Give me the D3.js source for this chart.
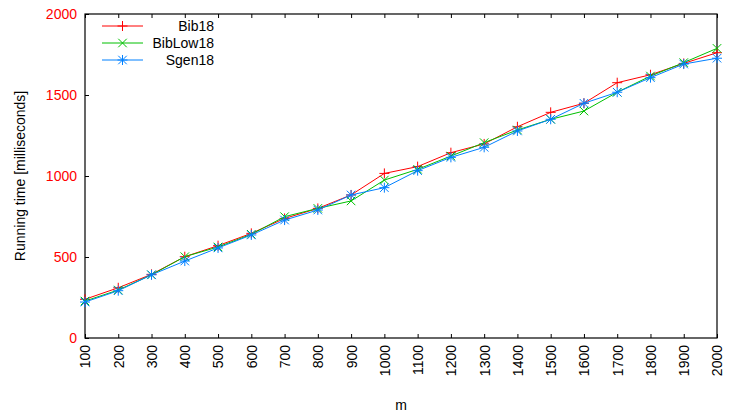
<!DOCTYPE html>
<html>
<head>
<meta charset="utf-8">
<script src="https://cdn.jsdelivr.net/npm/d3@7/dist/d3.min.js"></script>
<style>
  html, body { margin: 0; padding: 0; background: #fff; }
  svg { display: block; font-family: "Liberation Sans", Arial, sans-serif; }
</style>
</head>
<body>
<svg id="chart" width="732" height="415"></svg>
<script>
// Problem size m
const mValues = [100, 200, 300, 400, 500, 600, 700, 800, 900, 1000,
                 1100, 1200, 1300, 1400, 1500, 1600, 1700, 1800, 1900, 2000];

// Running times in milliseconds
const bib18 = [239, 310, 393, 502, 570, 646, 738, 800, 883, 1016,
               1058, 1144, 1198, 1304, 1393, 1449, 1576, 1625, 1695, 1761];
const bibLow18 = [228, 296, 390, 502, 562, 640, 749, 800, 846, 975,
                  1041, 1123, 1206, 1284, 1350, 1401, 1517, 1617, 1700, 1788];
const sgen18 = [222, 292, 390, 475, 556, 636, 728, 790, 883, 928,
                1033, 1115, 1177, 1278, 1350, 1449, 1517, 1607, 1691, 1727];

const yTicks = [0, 500, 1000, 1500, 2000];

const series = [
  { name: "Bib18", values: bib18, color: "#ff0000", marker: "plus" },
  { name: "BibLow18", values: bibLow18, color: "#00c000", marker: "cross" },
  { name: "Sgen18", values: sgen18, color: "#0080ff", marker: "star" }
];

const margin = { left: 85, right: 15, top: 14, bottom: 77 };
const W = 732, H = 415;
const svg = d3.select("#chart");

const x = d3.scaleLinear().domain([100, 2000]).range([margin.left, W - margin.right]);
const y = d3.scaleLinear().domain([0, 2000]).range([H - margin.bottom, margin.top]);

const tickLen = 4;

// Bottom axis: ticks point inward, labels rotated
const xAxis = svg.append("g")
  .attr("transform", `translate(0,${y(0)})`)
  .call(d3.axisBottom(x).tickValues(mValues).tickSize(-tickLen).tickPadding(0).tickFormat(d3.format("d")));
xAxis.select(".domain").remove();
xAxis.selectAll("line").attr("stroke", "#000");
xAxis.selectAll("text")
  .attr("transform", "rotate(-90)")
  .attr("text-anchor", "end")
  .attr("x", -7)
  .attr("y", 0)
  .attr("dy", "0.35em")
  .attr("fill", "#000")
  .style("font-size", "14px");

// Top mirror ticks
const xTop = svg.append("g")
  .attr("transform", `translate(0,${y(2000)})`)
  .call(d3.axisTop(x).tickValues(mValues).tickSize(-tickLen).tickFormat(""));
xTop.select(".domain").remove();
xTop.selectAll("line").attr("stroke", "#000");

// Left axis with red labels
const yAxis = svg.append("g")
  .attr("transform", `translate(${x(100)},0)`)
  .call(d3.axisLeft(y).tickValues(yTicks).tickSize(-tickLen).tickPadding(8).tickFormat(d3.format("d")));
yAxis.select(".domain").remove();
yAxis.selectAll("line").attr("stroke", "#000");
yAxis.selectAll("text").attr("fill", "#ff0000").style("font-size", "14px");

// Frame
svg.append("rect")
  .attr("x", x(100)).attr("y", y(2000))
  .attr("width", x(2000) - x(100)).attr("height", y(0) - y(2000))
  .attr("fill", "none").attr("stroke", "#000").attr("stroke-width", 1.2);

// Axis titles
svg.append("text")
  .attr("transform", `translate(20,${(y(0) + y(2000)) / 2}) rotate(-90)`)
  .attr("text-anchor", "middle").attr("dy", "0.35em")
  .style("font-size", "14px").text("Running time [milliseconds]");
svg.append("text")
  .attr("x", (x(100) + x(2000)) / 2).attr("y", 405)
  .attr("text-anchor", "middle").attr("dy", "0.35em")
  .style("font-size", "14px").text("m");

// Point markers in gnuplot style
function markerPath(type, r) {
  const p = d3.path();
  if (type === "plus" || type === "star") {
    p.moveTo(-r, 0); p.lineTo(r, 0);
    p.moveTo(0, -r); p.lineTo(0, r);
  }
  if (type === "cross" || type === "star") {
    const d = r * 0.85;
    p.moveTo(-d, -d); p.lineTo(d, d);
    p.moveTo(-d, d); p.lineTo(d, -d);
  }
  return p.toString();
}

const line = d3.line().x((d, i) => x(mValues[i])).y(d => y(d));

series.forEach(s => {
  const g = svg.append("g");
  g.append("path")
    .attr("d", line(s.values))
    .attr("fill", "none").attr("stroke", s.color).attr("stroke-width", 1);
  g.selectAll("path.pt").data(s.values).join("path")
    .attr("class", "pt")
    .attr("transform", (d, i) => `translate(${x(mValues[i])},${y(d)})`)
    .attr("d", markerPath(s.marker, 5))
    .attr("fill", "none").attr("stroke", s.color).attr("stroke-width", 1);
});

// Legend
const legend = svg.append("g");
series.forEach((s, i) => {
  const ly = 26 + i * 17;
  legend.append("line")
    .attr("x1", 102).attr("x2", 143).attr("y1", ly).attr("y2", ly)
    .attr("stroke", s.color).attr("stroke-width", 1);
  legend.append("path")
    .attr("transform", `translate(122.5,${ly})`)
    .attr("d", markerPath(s.marker, 5))
    .attr("fill", "none").attr("stroke", s.color).attr("stroke-width", 1);
  legend.append("text")
    .attr("x", 214).attr("y", ly).attr("dy", "0.35em")
    .attr("text-anchor", "end").style("font-size", "14px")
    .text(s.name);
});
</script>
</body>
</html>
